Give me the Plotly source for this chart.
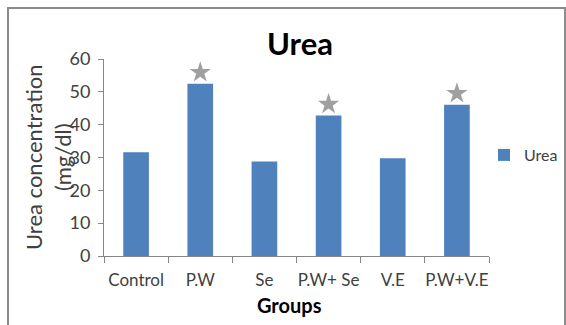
import plotly.graph_objects as go

# Serum urea by treatment group
groups = ["Control", "P.W", "Se", "P.W+ Se", "V.E", "P.W+V.E"]
urea = [31.6, 52.5, 28.8, 42.8, 29.8, 46.1]
# groups flagged as significantly different from control
significant = ["P.W", "P.W+ Se", "P.W+V.E"]
y_ticks = [0, 10, 20, 30, 40, 50, 60]

FONT = "Lato"
BLUE = "#4F81BD"
AXIS_GRAY = "#868686"
TEXT_GRAY = "#404040"

W, H = 566, 325
ML, MR, MT, MB = 104, 77, 59, 69
PW = W - ML - MR
PH = H - MT - MB


def px_x(px):
    """pixel column -> paper x"""
    return (px - ML) / PW


def px_y(py):
    """pixel row -> paper y"""
    return (H - MB - py) / PH


star_x = [g for g in groups if g in significant]
star_y = [urea[groups.index(g)] + 3.4 for g in star_x]

fig = go.Figure()
fig.add_trace(go.Bar(
    x=groups, y=urea, name="Urea",
    marker=dict(color=BLUE, line=dict(width=0)),
))
fig.add_trace(go.Scatter(
    x=star_x, y=star_y, mode="markers", showlegend=False,
    marker=dict(symbol="star", size=16, color="#A0A0A0", line=dict(width=0)),
    hoverinfo="skip",
))

fig.update_layout(
    width=W, height=H,
    margin=dict(l=ML, r=MR, t=MT, b=MB, pad=0, autoexpand=False),
    paper_bgcolor="white", plot_bgcolor="white",
    bargap=0.6,
    font=dict(family=FONT, color=TEXT_GRAY, size=16),
    title=dict(text="<b>Urea</b>", xref="container", x=300 / W, xanchor="center",
               yref="container", y=1 - 44 / H, yanchor="middle",
               font=dict(family=FONT, size=31, color="black")),
    legend=dict(xref="container", x=484 / W, xanchor="left",
                yref="container", y=1 - 155 / H, yanchor="middle",
                font=dict(family=FONT, size=16, color=TEXT_GRAY),
                bgcolor="rgba(0,0,0,0)", borderwidth=0),
    showlegend=True,
)

fig.update_xaxes(
    type="category", showline=True, linecolor=AXIS_GRAY, linewidth=1,
    ticks="outside", tickson="boundaries", ticklen=6, tickcolor=AXIS_GRAY,
    showgrid=False, zeroline=False, ticklabelstandoff=9, tickangle=0,
    automargin=False,
    tickfont=dict(family=FONT, size=17, color=TEXT_GRAY),
)
fig.update_yaxes(
    range=[0, 60], tickvals=y_ticks, showline=True, linecolor=AXIS_GRAY, linewidth=1,
    ticks="outside", ticklen=5, tickcolor=AXIS_GRAY, showgrid=False, zeroline=False,
    ticklabelstandoff=4, automargin=False,
    tickfont=dict(family=FONT, size=18, color=TEXT_GRAY),
)

fig.add_annotation(
    text="Urea concentration<br>(mg/dl)", textangle=-90,
    xref="paper", yref="paper", x=px_x(48), y=px_y(157),
    xanchor="center", yanchor="middle", showarrow=False,
    font=dict(family=FONT, size=22, color=TEXT_GRAY),
)
fig.add_annotation(
    text="<b>Groups</b>", xref="paper", yref="paper",
    x=px_x(289), y=px_y(305), xanchor="center", yanchor="middle", showarrow=False,
    font=dict(family=FONT, size=20, color="black"),
)

# outer chart frame
fig.add_shape(
    type="rect", xref="paper", yref="paper",
    x0=px_x(8), x1=px_x(W - 1), y0=px_y(H + 10), y1=px_y(8),
    line=dict(color="#8C8C8C", width=2), fillcolor="rgba(0,0,0,0)", layer="below",
)

fig.write_html("out.html")
